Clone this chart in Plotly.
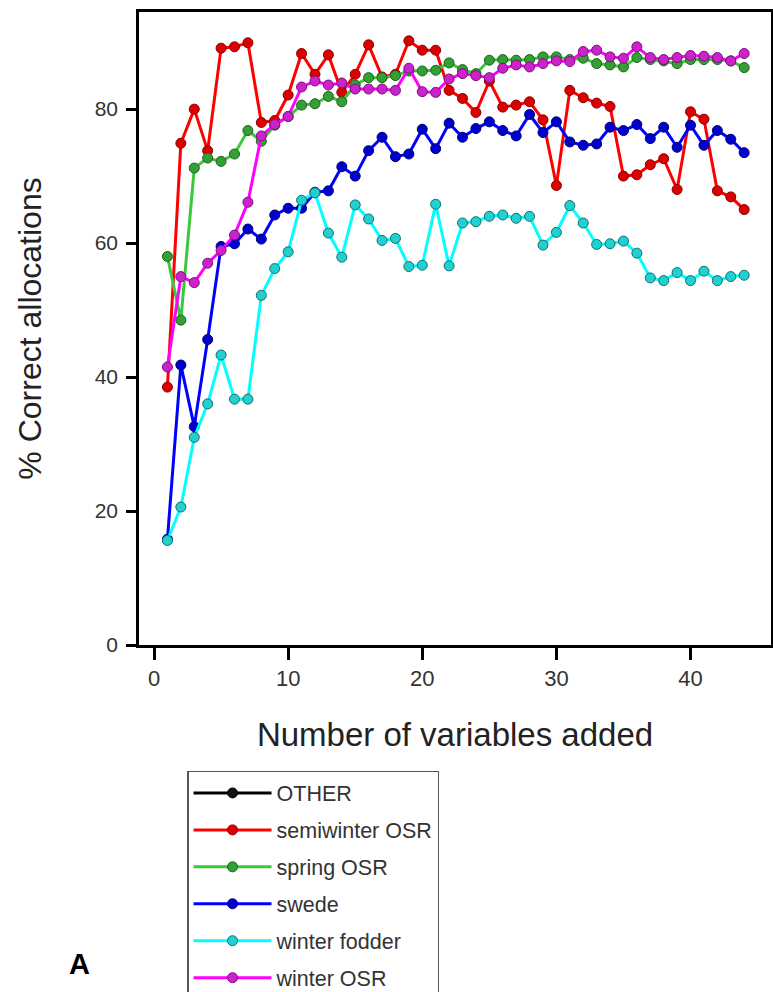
import plotly.graph_objects as go

steps = list(range(1, 45))

other = [None] * 44

semiwinter_osr = [38.5, 74.9, 80.0, 73.8, 89.1, 89.3, 89.9, 78.0, 78.3, 82.1,
                  88.3, 85.2, 88.1, 82.5, 85.2, 89.6, 84.8, 85.2, 90.2, 88.8,
                  88.8, 82.8, 81.6, 79.5, 84.2, 80.3, 80.6, 81.1, 78.4, 68.6,
                  82.8, 81.7, 80.9, 80.4, 70.0, 70.2, 71.7, 72.6, 68.0, 79.6,
                  78.5, 67.8, 66.9, 65.0]

spring_osr = [58.0, 48.5, 71.2, 72.7, 72.2, 73.3, 76.8, 75.2, 77.6, 78.9,
              80.6, 80.8, 81.9, 81.1, 83.6, 84.7, 84.7, 85.0, 85.7, 85.7,
              85.8, 86.9, 85.9, 85.3, 87.3, 87.4, 87.3, 87.4, 87.8, 87.8,
              87.4, 87.6, 86.8, 86.6, 86.3, 87.7, 87.4, 87.2, 86.8, 87.4,
              87.4, 87.4, 87.2, 86.2]

swede = [15.8, 41.8, 32.6, 45.6, 59.5, 59.9, 62.1, 60.6, 64.2, 65.2,
         65.2, 67.6, 67.8, 71.4, 70.0, 73.8, 75.8, 72.9, 73.3, 77.0,
         74.1, 77.9, 75.8, 77.1, 78.1, 76.8, 76.0, 79.2, 76.5, 78.1,
         75.1, 74.6, 74.8, 77.3, 76.8, 77.7, 75.6, 77.3, 74.3, 77.6,
         74.6, 76.8, 75.5, 73.5]

winter_fodder = [15.6, 20.6, 31.0, 36.0, 43.3, 36.7, 36.7, 52.2, 56.2, 58.7,
                 66.4, 67.5, 61.5, 57.9, 65.7, 63.6, 60.4, 60.7, 56.5, 56.7,
                 65.8, 56.6, 63.0, 63.2, 64.0, 64.2, 63.7, 64.0, 59.7, 61.6,
                 65.6, 63.0, 59.8, 59.9, 60.3, 58.5, 54.8, 54.4, 55.6, 54.4,
                 55.8, 54.4, 55.0, 55.2]

winter_osr = [41.5, 55.0, 54.1, 57.0, 58.9, 61.2, 66.1, 76.0, 77.7, 78.9,
              83.3, 84.2, 83.6, 83.9, 83.0, 83.0, 83.0, 82.8, 86.1, 82.6,
              82.5, 84.5, 85.3, 85.0, 84.7, 86.1, 86.6, 86.3, 86.8, 87.2,
              87.1, 88.6, 88.8, 87.8, 87.6, 89.3, 87.7, 87.4, 87.7, 88.0,
              87.9, 87.7, 87.2, 88.3]

series_names = ["OTHER", "semiwinter OSR", "spring OSR", "swede",
                "winter fodder", "winter OSR"]
series_values = [other, semiwinter_osr, spring_osr, swede, winter_fodder, winter_osr]
line_colors = ["#000000", "#ff0000", "#3cc83c", "#0000ff", "#00ffff", "#ff00ff"]
marker_colors = ["#111111", "#dd0000", "#33a033", "#0000cc", "#22d0d0", "#cc22cc"]
marker_edges = ["#000000", "#880000", "#1f5f1f", "#000077", "#117070", "#771177"]

x_ticks = [0, 10, 20, 30, 40]
y_ticks = [0, 20, 40, 60, 80]

FONT = "Liberation Sans, Arial, sans-serif"

fig = go.Figure()
for name, vals, lc, mc, me in zip(series_names, series_values, line_colors,
                                  marker_colors, marker_edges):
    fig.add_trace(go.Scatter(
        x=steps, y=vals, name=name, mode="lines+markers",
        legendgroup=name,
        line=dict(color=lc, width=3),
        marker=dict(color=mc, size=10, line=dict(color=me, width=1)),
    ))

fig.add_annotation(text="<b>A</b>", xref="paper", yref="paper",
                   x=(79 - 139) / 632, y=(645 - 964) / 633,
                   xanchor="center", yanchor="middle", showarrow=False,
                   font=dict(family=FONT, size=29, color="#000000"))

fig.update_layout(
    width=773, height=992,
    margin=dict(l=139, r=2, t=12, b=347, autoexpand=False),
    paper_bgcolor="white", plot_bgcolor="white",
    font=dict(family=FONT, color="#222222"),
    showlegend=True,
    legend=dict(
        x=0.076, y=-0.199, xanchor="left", yanchor="top",
        bordercolor="#555555", borderwidth=1.5, bgcolor="white",
        font=dict(family=FONT, size=21.5, color="#333333"),
        itemwidth=78, tracegroupgap=6, traceorder="grouped",
    ),
    xaxis=dict(
        range=[-1.12, 46.0], tickvals=x_ticks, ticktext=[str(v) for v in x_ticks],
        showgrid=False, zeroline=False, showline=True, mirror=True,
        linecolor="#000000", linewidth=2.5,
        ticks="outside", ticklen=12, tickwidth=2.5, tickcolor="#000000",
        ticklabelstandoff=0,
        tickfont=dict(family=FONT, size=22, color="#333333"),
        title=dict(text="Number of variables added", standoff=33,
                   font=dict(family=FONT, size=33, color="#222222")),
        automargin=False,
    ),
    yaxis=dict(
        range=[0, 94.5], tickvals=y_ticks, ticktext=[str(v) for v in y_ticks],
        showgrid=False, zeroline=False, showline=True, mirror=True,
        linecolor="#000000", linewidth=2.5,
        ticks="outside", ticklen=10, tickwidth=2.5, tickcolor="#000000",
        ticklabelstandoff=4,
        tickfont=dict(family=FONT, size=21, color="#333333"),
        title=dict(text="% Correct allocations", standoff=44,
                   font=dict(family=FONT, size=32, color="#222222")),
        automargin=False,
    ),
)

fig.write_html("out.html")
